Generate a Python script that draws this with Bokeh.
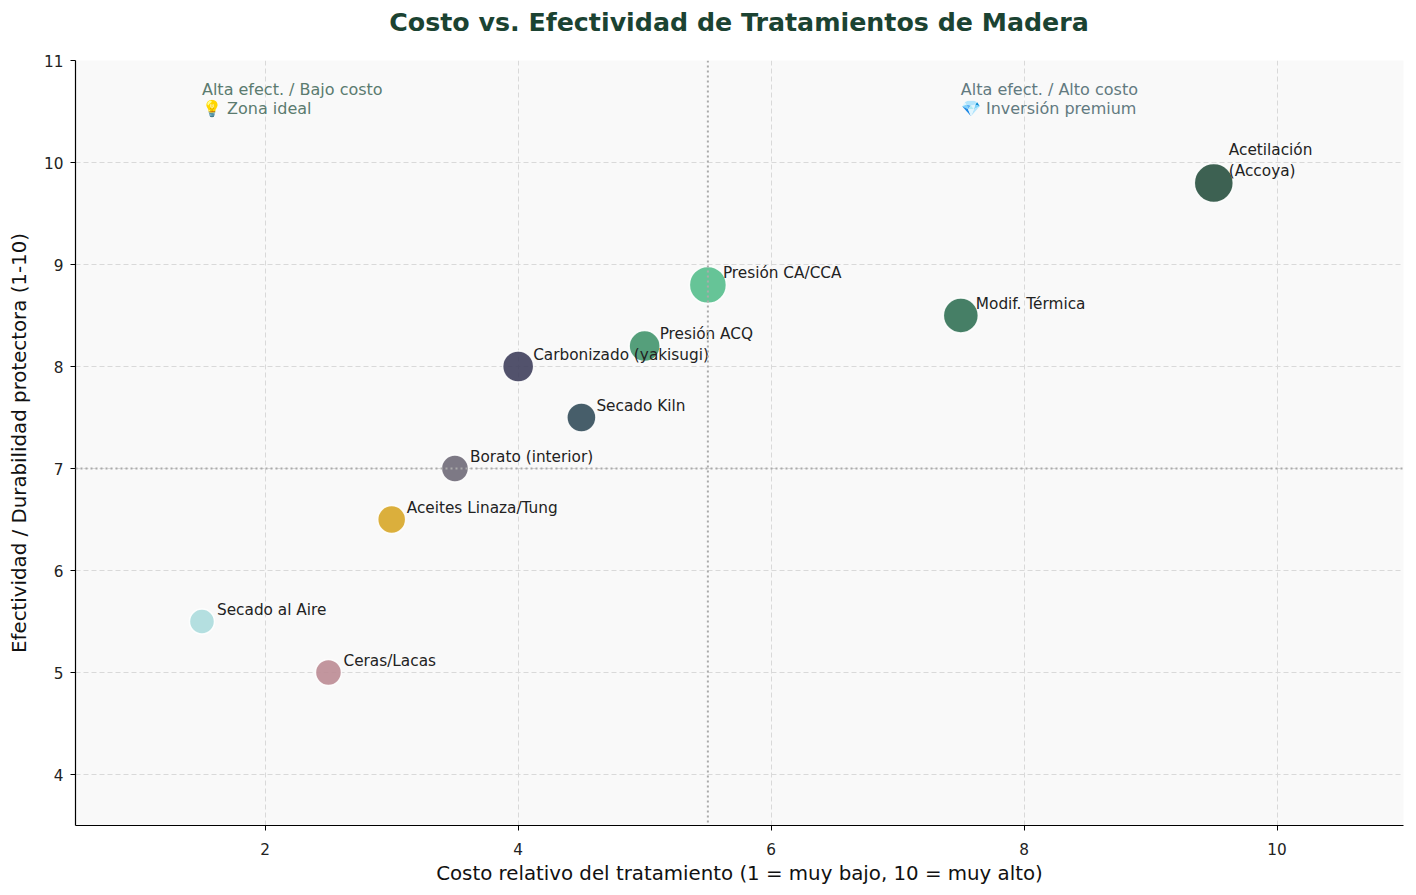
from bokeh.plotting import figure
from bokeh.models import ColumnDataSource, Span, FixedTicker, Div
from bokeh.layouts import column
from bokeh.core.properties import value
from bokeh.embed import file_html
from bokeh.resources import INLINE
import numpy as np

# --- Datos: tratamientos de madera ---
tratamientos = [
    "Secado al Aire", "Ceras/Lacas", "Aceites Linaza/Tung", "Borato (interior)",
    "Carbonizado (yakisugi)", "Secado Kiln", "Presión ACQ", "Presión CA/CCA",
    "Modif. Térmica", "Acetilación\n(Accoya)",
]
costo = [1.5, 2.5, 3.0, 3.5, 4.0, 4.5, 5.0, 5.5, 7.5, 9.5]
efectividad = [5.5, 5.0, 6.5, 7.0, 8.0, 7.5, 8.2, 8.8, 8.5, 9.8]
# peso relativo de cada burbuja (área)
peso = [1.0, 1.08, 1.25, 1.17, 1.54, 1.35, 1.54, 2.19, 1.96, 2.43]
colores = [
    "#aedcdd", "#bd8d96", "#d8a82b", "#726e7b", "#43435f",
    "#37505d", "#469770", "#59bf8e", "#367459", "#2c5443",
]
x_ticks = [2, 4, 6, 8, 10]
y_ticks = [4, 5, 6, 7, 8, 9, 10, 11]
costo_medio = 5.5
efect_umbral = 7.0

TITULO = "Costo vs. Efectividad de Tratamientos de Madera"
FONT = "DejaVu Sans"

diametro = [25 * np.sqrt(w) for w in peso]
src = ColumnDataSource(dict(x=costo, y=efectividad, nombre=tratamientos,
                            color=colores, d=diametro))

# título como bloque HTML, centrado sobre el área del gráfico
titulo = Div(
    text=(f'<div style="width:1328px;text-align:center;font-family:\'{FONT}\';'
          f'font-size:25.3px;font-weight:bold;color:#1b4332;line-height:46px;">'
          f'{TITULO}</div>'),
    width=1416, height=46, margin=(0, 0, 0, 75),
)

p = figure(width=1416, height=849, x_range=(0.5, 11), y_range=(3.5, 11),
           output_backend="svg", toolbar_location=None,
           min_border_left=75, min_border_right=13,
           min_border_top=14, min_border_bottom=70,
           background_fill_color="#f9f9f9", border_fill_color="white",
           outline_line_color=None)

# grid
for g in (p.xgrid, p.ygrid):
    g.grid_line_color = "#d9d9d9"
    g.grid_line_dash = "5 3"
    g.grid_line_width = 1
p.xaxis.ticker = FixedTicker(ticks=x_ticks)
p.yaxis.ticker = FixedTicker(ticks=y_ticks)

for ax in (p.xaxis, p.yaxis):
    ax.axis_line_color = "black"
    ax.axis_line_width = 1.2
    ax.major_tick_line_color = "black"
    ax.major_tick_out = 5
    ax.major_tick_in = 0
    ax.minor_tick_line_color = None
    ax.major_label_text_font = FONT
    ax.major_label_text_font_size = "15.3px"
    ax.major_label_text_color = "#222222"
    ax.axis_label_text_font = FONT
    ax.axis_label_text_font_size = "19.8px"
    ax.axis_label_text_font_style = "normal"
    ax.axis_label_text_color = "#111111"

p.xaxis.axis_label = "Costo relativo del tratamiento (1 = muy bajo, 10 = muy alto)"
p.yaxis.axis_label = "Efectividad / Durabilidad protectora (1-10)"
p.xaxis.axis_label_standoff = 4
p.yaxis.axis_label_standoff = 10
p.xaxis.major_label_standoff = 12
p.yaxis.major_label_standoff = 7

# líneas de referencia
p.add_layout(Span(location=costo_medio, dimension="height", line_color="#aaaaaa",
                  line_width=2, line_dash="2 3"))
p.add_layout(Span(location=efect_umbral, dimension="width", line_color="#aaaaaa",
                  line_width=2, line_dash="2 3"))

# burbujas
p.scatter("x", "y", source=src, size="d", fill_color="color", fill_alpha=0.92,
          line_color="white", line_width=1.5, line_alpha=0.9)

# etiquetas
p.text("x", "y", text="nombre", source=src, x_offset=15, y_offset=-3,
       text_font=value(FONT), text_font_size="15.3px", text_color="#222222",
       text_baseline="bottom", text_align="left", text_line_height=1.15)

# anotaciones de cuadrante
p.text(x=[1.5], y=[10.81], text=["Alta efect. / Bajo costo\n💡 Zona ideal"],
       text_font=value(FONT), text_font_size="16px", text_color="#5b7b6f",
       text_baseline="top", text_align="left", text_line_height=1.0)
p.text(x=[7.5], y=[10.81], text=["Alta efect. / Alto costo\n💎 Inversión premium"],
       text_font=value(FONT), text_font_size="16px", text_color="#627a80",
       text_baseline="top", text_align="left", text_line_height=1.0)

layout = column(titulo, p, spacing=0)
open("out.html", "w").write(file_html(layout, INLINE))
